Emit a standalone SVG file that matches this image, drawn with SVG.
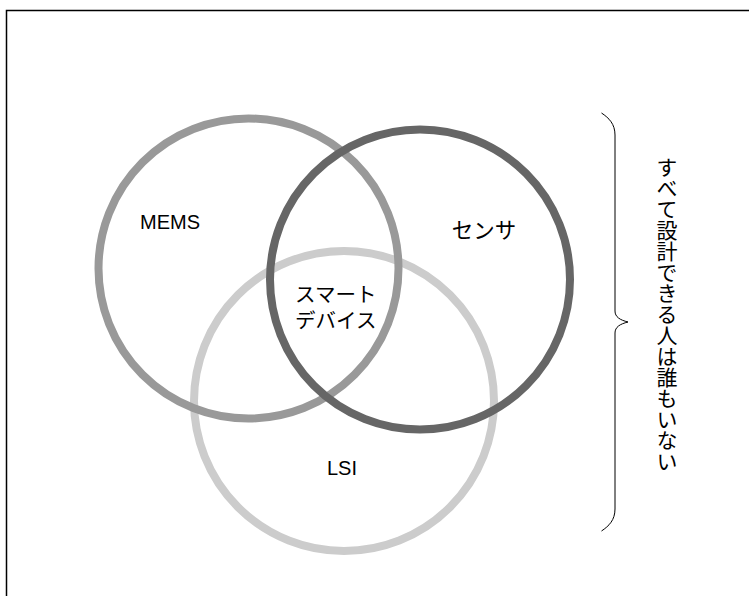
<svg xmlns="http://www.w3.org/2000/svg" width="749" height="596" viewBox="0 0 749 596">
<style>
.ring{fill:none;stroke-width:8}
.lbl{font-family:"Liberation Sans","Noto Sans CJK JP",sans-serif;font-size:20px;fill:#000}
.jp{font-family:"Noto Sans CJK JP",sans-serif;font-size:21.5px;fill:#000}
.jp2{font-family:"Liberation Sans","Noto Sans CJK JP",sans-serif;font-size:20.5px;fill:#000}
</style>
<rect width="749" height="596" fill="#fff"/>
<path d="M6.5,596 V10.5 H749" fill="none" stroke="#000" stroke-width="1.5"/>
<g id="lsi">
<circle class="ring" cx="344" cy="401" r="150" stroke="#cccccc"/>
<text class="lbl" x="342" y="475" text-anchor="middle">LSI</text>
</g>
<g id="mems">
<circle class="ring" cx="248.5" cy="268.5" r="150" stroke="#999999"/>
<text class="lbl" x="170" y="229" text-anchor="middle">MEMS</text>
</g>
<g id="sensor">
<circle class="ring" cx="420" cy="279.5" r="150" stroke="#666666"/>
<text class="jp" x="484" y="238" text-anchor="middle">センサ</text>
</g>
<g id="smart">
<text class="jp2" x="295" y="302">スマート</text>
<text class="jp2" x="295" y="328">デバイス</text>
</g>
<g id="connectors">
<path id="brace" d="M601.5,113 C609,118 615,124 615,135 V311 C615,317 620,320 628,322 C620,324 615,327 615,333 V509 C615,520 609,526 601.5,531" fill="none" stroke="#000" stroke-width="1"/>
</g>
<g id="note">
<text class="jp" x="667" y="157" style="writing-mode:vertical-rl;font-size:21px">すべて設計できる人は誰もいない</text>
</g>
</svg>
